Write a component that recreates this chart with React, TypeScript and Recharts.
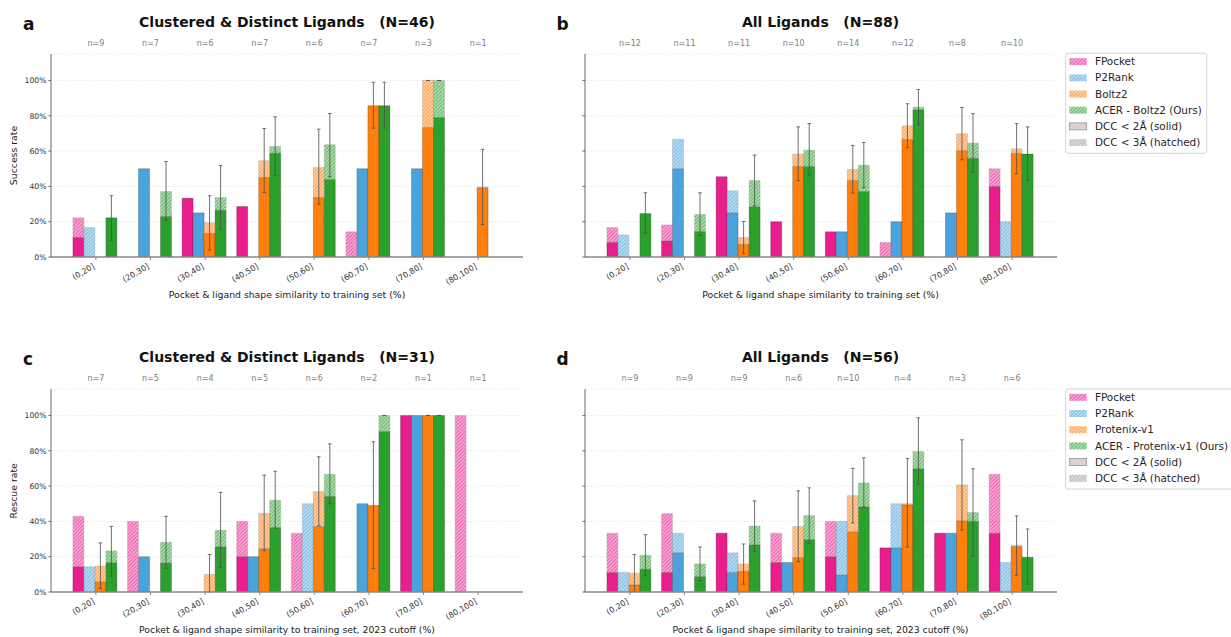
import React from "react";
import { BarChart, Bar, XAxis, YAxis, CartesianGrid, ErrorBar } from "recharts";

// ---- data (percent) ----
const BINS = ["(0,20]", "(20,30]", "(30,40]", "(40,50]", "(50,60]", "(60,70]", "(70,80]", "(80,100]"];
const Y_TICKS = [0, 20, 40, 60, 80, 100];

// panel a: Clustered & Distinct Ligands (N=46), success rate
const A_N = [9, 7, 6, 7, 6, 7, 3, 1];
const A_FP_2A = [11.1, 0, 33.3, 28.6, 0, 0, 0, 0];
const A_FP_3A = [22.2, 0, 33.3, 28.6, 0, 14.3, 0, 0];
const A_P2_2A = [0, 50, 25, 0, 0, 50, 50, 0];
const A_P2_3A = [16.7, 50, 25, 0, 0, 50, 50, 0];
const A_BZ_2A = [0, 0, 13.3, 45, 33.7, 85.7, 73.3, 39.2];
const A_BZ_3A = [0, 0, 19.4, 54.5, 50.7, 85.7, 100, 39.7];
const A_BZ_LO = [null, null, 4, 36.5, 30, 73, 100, 18.4];
const A_BZ_HI = [null, null, 34.7, 72.8, 72.4, 99, 100, 61];
const A_AC_2A = [22.2, 22.9, 26.5, 58.8, 43.9, 85.7, 79, 0];
const A_AC_3A = [22.2, 37.1, 33.7, 62.6, 63.6, 85.7, 100, 0];
const A_AC_LO = [9.4, 20.7, 15.8, 46, 45.4, 73, 100, null];
const A_AC_HI = [34.7, 54.1, 51.8, 79.4, 81.3, 99, 100, null];

// panel b: All Ligands (N=88), success rate
const B_N = [12, 11, 11, 10, 14, 12, 8, 10];
const B_FP_2A = [8.3, 9.1, 45.5, 20, 14.3, 0, 0, 40];
const B_FP_3A = [16.7, 18.2, 45.5, 20, 14.3, 8.3, 0, 50];
const B_P2_2A = [0, 50, 25, 0, 14.3, 20, 25, 0];
const B_P2_3A = [12.5, 66.7, 37.5, 0, 14.3, 20, 25, 20];
const B_BZ_2A = [0, 0, 7.1, 51.3, 43.3, 66.6, 60.2, 58.6];
const B_BZ_3A = [0, 0, 11, 58.3, 49.6, 74.3, 69.8, 61.3];
const B_BZ_LO = [null, null, 2, 43.3, 36.2, 61.9, 55.1, 47.3];
const B_BZ_HI = [null, null, 20.1, 73.7, 63.2, 86.8, 84.7, 75.6];
const B_AC_2A = [24.6, 14.4, 28.4, 51.3, 37.1, 83.4, 56, 58.3];
const B_AC_3A = [24.6, 24.1, 43.3, 60.5, 52, 84.9, 64.5, 58.3];
const B_AC_LO = [13.7, 12.2, 29, 46, 39.2, 74.9, 48.1, 43.3];
const B_AC_HI = [36.4, 36.4, 57.7, 75.6, 64.9, 94.9, 81.2, 73.7];

// panel c: Clustered & Distinct Ligands (N=31), rescue rate
const C_N = [7, 5, 4, 5, 6, 2, 1, 1];
const C_FP_2A = [14.3, 0, 0, 20, 0, 0, 100, 0];
const C_FP_3A = [42.9, 40, 0, 40, 33.3, 0, 100, 100];
const C_P2_2A = [0, 20, 0, 20, 0, 50, 100, 0];
const C_P2_3A = [14.3, 20, 0, 20, 50, 50, 100, 0];
const C_BZ_2A = [5.7, 0, 0, 24.6, 37.1, 49, 100, 0];
const C_BZ_3A = [14.7, 0, 10, 44.6, 56.9, 49, 100, 0];
const C_BZ_LO = [1.9, null, 0, 23.4, 37.4, 13.4, 100, null];
const C_BZ_HI = [27.8, null, 21.2, 66.2, 76.6, 85.1, 100, null];
const C_AC_2A = [16.6, 16.4, 25.5, 36.5, 54.1, 90.9, 100, 0];
const C_AC_3A = [23.3, 28.2, 35, 52, 66.7, 100, 100, 0];
const C_AC_LO = [8.9, 13.4, 13.8, 36.1, 49.9, 100, 100, null];
const C_AC_HI = [37.2, 42.9, 56.5, 68.4, 83.9, 100, 100, null];

// panel d: All Ligands (N=56), rescue rate
const D_N = [9, 9, 9, 6, 10, 4, 3, 6];
const D_FP_2A = [11.1, 11.1, 33.3, 16.7, 20, 25, 33.3, 33.3];
const D_FP_3A = [33.3, 44.4, 33.3, 33.3, 40, 25, 33.3, 66.7];
const D_P2_2A = [0, 22.2, 11.1, 16.7, 9.6, 25, 33.3, 0];
const D_P2_3A = [11.1, 33.3, 22.2, 16.7, 40, 50, 33.3, 16.7];
const D_BZ_2A = [4, 0, 11.7, 19.5, 34, 49.3, 40.3, 25.7];
const D_BZ_3A = [10.6, 0, 15.9, 37.1, 54.6, 50, 60.7, 26.5];
const D_BZ_LO = [0.3, null, 4.5, 17.2, 39.1, 25.5, 35.2, 9.5];
const D_BZ_HI = [21.2, null, 27.2, 57.3, 70.1, 75.6, 86.2, 43.1];
const D_AC_2A = [12.9, 8.7, 26.7, 29.7, 48.2, 69.8, 40, 19.7];
const D_AC_3A = [20.8, 15.9, 37.4, 43.3, 61.8, 79.6, 45, 19.7];
const D_AC_LO = [9.1, 6.4, 23.1, 27.6, 48.2, 61.2, 20.4, 4.5];
const D_AC_HI = [32.5, 25.5, 51.6, 59, 76, 98.7, 69.8, 35.7];

const TOP_LABELS = ["FPocket", "P2Rank", "Boltz2", "ACER - Boltz2 (Ours)", "DCC < 2Å (solid)", "DCC < 3Å (hatched)"];
const BOTTOM_LABELS = ["FPocket", "P2Rank", "Protenix-v1", "ACER - Protenix-v1 (Ours)", "DCC < 2Å (solid)", "DCC < 3Å (hatched)"];

// ---- style ----
const FONT = "'DejaVu Sans', Verdana, sans-serif";
const METHODS = ["fp", "p2", "bz", "ac"];
const COLORS: Record<string, string> = { fp: "#e91e8c", p2: "#4ba3dd", bz: "#ff7f0e", ac: "#2ca02c", grey: "#a0a0a0" };

const PANEL_W = 540;
const PANEL_H = 320;
const PLOT_LEFT = 51;
const PLOT_RIGHT = 523;
const PLOT_TOP = 54;
const PLOT_BOTTOM = 257;
const TOP_AXIS_H = 14;
const BOTTOM_AXIS_H = 30;
const X_PAD = 17.6;

type Vals = (number | null)[];

// error bar sits on top of the hatched segment, or on the solid one when there is no hatched part
function errPair(solid: number, top: number, lo: number | null, hi: number | null, onHatched: boolean) {
  if (lo == null || hi == null) return null;
  const hasHatch = top - solid > 0;
  if (hasHatch !== onHatched) return null;
  return [top - lo, hi - top];
}

function buildRows(s: Vals[]) {
  const [fp2, fp3, p22, p23, bz2, bz3, bzLo, bzHi, ac2, ac3, acLo, acHi] = s as number[][];
  return BINS.map((bin, i) => ({
    bin,
    fp_s: fp2[i],
    fp_h: fp3[i] - fp2[i],
    p2_s: p22[i],
    p2_h: p23[i] - p22[i],
    bz_s: bz2[i],
    bz_h: bz3[i] - bz2[i],
    bz_err_s: errPair(bz2[i], bz3[i], bzLo[i], bzHi[i], false),
    bz_err_h: errPair(bz2[i], bz3[i], bzLo[i], bzHi[i], true),
    ac_s: ac2[i],
    ac_h: ac3[i] - ac2[i],
    ac_err_s: errPair(ac2[i], ac3[i], acLo[i], acHi[i], false),
    ac_err_h: errPair(ac2[i], ac3[i], acLo[i], acHi[i], true),
  }));
}

const PANELS = [
  {
    id: "a", ox: 0, oy: 0, ylabel: "Success rate", showY: true,
    title: "Clustered & Distinct Ligands   (N=46)",
    xlabel: "Pocket & ligand shape similarity to training set (%)",
    n: A_N,
    rows: buildRows([A_FP_2A, A_FP_3A, A_P2_2A, A_P2_3A, A_BZ_2A, A_BZ_3A, A_BZ_LO, A_BZ_HI, A_AC_2A, A_AC_3A, A_AC_LO, A_AC_HI]),
  },
  {
    id: "b", ox: 533.5, oy: 0, ylabel: "", showY: false,
    title: "All Ligands   (N=88)",
    xlabel: "Pocket & ligand shape similarity to training set (%)",
    n: B_N,
    rows: buildRows([B_FP_2A, B_FP_3A, B_P2_2A, B_P2_3A, B_BZ_2A, B_BZ_3A, B_BZ_LO, B_BZ_HI, B_AC_2A, B_AC_3A, B_AC_LO, B_AC_HI]),
  },
  {
    id: "c", ox: 0, oy: 335.3, ylabel: "Rescue rate", showY: true,
    title: "Clustered & Distinct Ligands   (N=31)",
    xlabel: "Pocket & ligand shape similarity to training set, 2023 cutoff (%)",
    n: C_N,
    rows: buildRows([C_FP_2A, C_FP_3A, C_P2_2A, C_P2_3A, C_BZ_2A, C_BZ_3A, C_BZ_LO, C_BZ_HI, C_AC_2A, C_AC_3A, C_AC_LO, C_AC_HI]),
  },
  {
    id: "d", ox: 533.5, oy: 335.3, ylabel: "", showY: false,
    title: "All Ligands   (N=56)",
    xlabel: "Pocket & ligand shape similarity to training set, 2023 cutoff (%)",
    n: D_N,
    rows: buildRows([D_FP_2A, D_FP_3A, D_P2_2A, D_P2_3A, D_BZ_2A, D_BZ_3A, D_BZ_LO, D_BZ_HI, D_AC_2A, D_AC_3A, D_AC_LO, D_AC_HI]),
  },
];

function HatchDefs({ prefix }: { prefix: string }) {
  return (
    <defs>
      {Object.keys(COLORS).map((k) => (
        <pattern key={k} id={`${prefix}-${k}`} patternUnits="userSpaceOnUse" width={3.6} height={3.6}>
          <rect width={3.6} height={3.6} fill={COLORS[k]} fillOpacity={0.4} />
          <path d="M-0.9,0.9 l1.8,-1.8 M0,3.6 l3.6,-3.6 M2.7,4.5 l1.8,-1.8" stroke={COLORS[k]} strokeWidth={0.8} strokeOpacity={0.85} />
        </pattern>
      ))}
    </defs>
  );
}

const BottomTick = (props: any) => {
  const { x, y, payload } = props;
  const ax = x - 0.7;
  const ay = y + 8;
  return (
    <text x={ax} y={ay} textAnchor="end" fontSize={8} fill="#333" transform={`rotate(-30 ${ax} ${ay})`}>
      {payload.value}
    </text>
  );
};

const errStyle = { width: 1.8, stroke: "#4d4d4d", strokeOpacity: 0.8, strokeWidth: 1 };

function Panel({ p }: { p: (typeof PANELS)[number] }) {
  const hid = `hatch-${p.id}`;
  const TopTick = (props: any) => {
    const i = BINS.indexOf(props.payload.value);
    return (
      <text x={props.x} y={props.y - 8.2} textAnchor="middle" fontSize={8} fill="#808080">
        {`n=${p.n[i]}`}
      </text>
    );
  };
  return (
    <div style={{ position: "absolute", left: p.ox, top: p.oy }}>
      <BarChart
        width={PANEL_W}
        height={PANEL_H}
        data={p.rows}
        barGap={0}
        barCategoryGap={4.3}
        margin={{
          top: PLOT_TOP - TOP_AXIS_H,
          right: PANEL_W - PLOT_RIGHT,
          left: 0,
          bottom: PANEL_H - PLOT_BOTTOM - BOTTOM_AXIS_H,
        }}
      >
        <HatchDefs prefix={hid} />
        <CartesianGrid vertical={false} stroke="#d8d8d8" strokeDasharray="1 2" strokeWidth={0.8} />
        <XAxis
          xAxisId="top"
          orientation="top"
          dataKey="bin"
          height={TOP_AXIS_H}
          padding={{ left: X_PAD, right: X_PAD }}
          axisLine={false}
          tickLine={false}
          tickSize={0}
          tickMargin={0}
          interval={0}
          tick={TopTick}
        />
        <XAxis
          dataKey="bin"
          height={BOTTOM_AXIS_H}
          padding={{ left: X_PAD, right: X_PAD }}
          axisLine={{ stroke: "#8a8a8a", strokeWidth: 1.3 }}
          tickLine={{ stroke: "#8a8a8a" }}
          tickSize={3}
          tickMargin={0}
          interval={0}
          tick={BottomTick}
        />
        <YAxis
          type="number"
          domain={[0, 115]}
          allowDataOverflow
          ticks={Y_TICKS}
          width={PLOT_LEFT}
          tickSize={2.5}
          tickMargin={2}
          tickFormatter={(v: number) => `${v}%`}
          tick={p.showY ? { fontSize: 7.7, fill: "#333" } : () => <g />}
          axisLine={{ stroke: "#666" }}
          tickLine={{ stroke: "#666" }}
        />
        {METHODS.map((m) => (
          <Bar
            key={`${m}-s`}
            dataKey={`${m}_s`}
            stackId={m}
            fill={COLORS[m]}
            stroke="rgba(0,0,0,0.3)"
            strokeWidth={0.7}
            isAnimationActive={false}
          >
            {(m === "bz" || m === "ac") && (
              <ErrorBar dataKey={`${m}_err_s`} {...errStyle} isAnimationActive={false} />
            )}
          </Bar>
        ))}
        {METHODS.map((m) => (
          <Bar
            key={`${m}-h`}
            dataKey={`${m}_h`}
            stackId={m}
            fill={`url(#${hid}-${m})`}
            stroke="rgba(150,150,150,0.45)"
            strokeWidth={0.7}
            isAnimationActive={false}
          >
            {(m === "bz" || m === "ac") && (
              <ErrorBar dataKey={`${m}_err_h`} {...errStyle} isAnimationActive={false} />
            )}
          </Bar>
        ))}
      </BarChart>
    </div>
  );
}

function LegendBox({ x, y, w, labels }: { x: number; y: number; w: number; labels: string[] }) {
  const keys = ["fp", "p2", "bz", "ac", "solid", "grey"];
  return (
    <g>
      <rect x={x} y={y} width={w} height={100} rx={2.5} fill="#fff" fillOpacity={0.85} stroke="#d5d5d5" strokeWidth={1} />
      {labels.map((lab, i) => {
        const cy = y + 8.3 + i * 16.2;
        const k = keys[i];
        return (
          <g key={lab}>
            <rect
              x={x + 3.6}
              y={cy - 3.5}
              width={17.4}
              height={7}
              fill={k === "solid" ? "#d3d3d3" : `url(#lg-${k})`}
              stroke={k === "solid" ? "#8c8c8c" : "none"}
              strokeWidth={0.7}
            />
            <text x={x + 29.3} y={cy} dy="0.35em" fontSize={10.4} fill="#262626">
              {lab}
            </text>
          </g>
        );
      })}
    </g>
  );
}

export default function App() {
  return (
    <div
      style={{
        position: "absolute",
        left: 0,
        top: 0,
        width: 1231,
        height: 637,
        overflow: "hidden",
        background: "#fff",
        fontFamily: FONT,
      }}
    >
      {PANELS.map((p) => (
        <Panel key={p.id} p={p} />
      ))}
      <svg width={1231} height={637} style={{ position: "absolute", left: 0, top: 0, pointerEvents: "none" }}>
        <HatchDefs prefix="lg" />
        {PANELS.map((p) => {
          const cx = (PLOT_LEFT + PLOT_RIGHT) / 2 + p.ox;
          const cy = (PLOT_TOP + PLOT_BOTTOM) / 2 + p.oy;
          return (
            <g key={p.id} fill="#111">
              <text x={23 + p.ox} y={30 + p.oy} fontSize={17} fontWeight="bold">
                {p.id}
              </text>
              <text
                x={cx}
                y={26.5 + p.oy}
                fontSize={14}
                fontWeight="bold"
                textAnchor="middle"
                xmlSpace="preserve"
                style={{ whiteSpace: "pre" }}
              >
                {p.title}
              </text>
              {p.ylabel && (
                <text x={17} y={cy} fontSize={9.3} fill="#222" textAnchor="middle" transform={`rotate(-90 17 ${cy})`}>
                  {p.ylabel}
                </text>
              )}
              <text x={cx} y={298 + p.oy} fontSize={9.3} fill="#222" textAnchor="middle">
                {p.xlabel}
              </text>
            </g>
          );
        })}
        <LegendBox x={1065.7} y={53.3} w={141} labels={TOP_LABELS} />
        <LegendBox x={1065.7} y={389} w={175} labels={BOTTOM_LABELS} />
      </svg>
    </div>
  );
}
